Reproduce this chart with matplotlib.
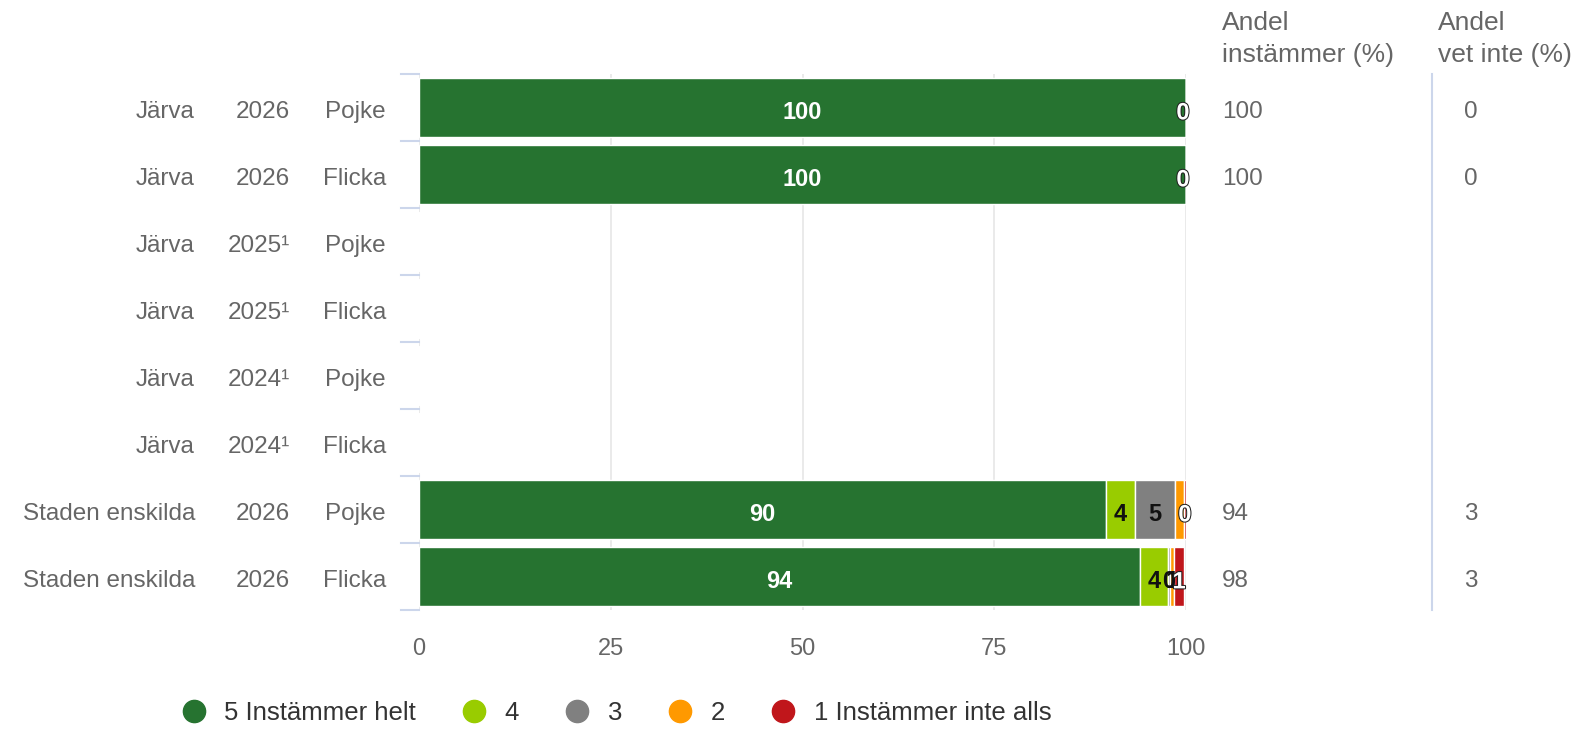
import numpy as np
from matplotlib import pyplot as plt
from matplotlib.lines import Line2D
import matplotlib.patheffects as pe

plt.rcParams['font.family'] = ['Liberation Sans', 'DejaVu Sans']

regions = ['Järva', 'Järva', 'Järva', 'Järva', 'Järva', 'Järva', 'Staden enskilda', 'Staden enskilda']
years = ['2026', '2026', '2025¹', '2025¹', '2024¹', '2024¹', '2026', '2026']
sexes = ['Pojke', 'Flicka', 'Pojke', 'Flicka', 'Pojke', 'Flicka', 'Pojke', 'Flicka']

series_names = ['5 Instämmer helt', '4', '3', '2', '1 Instämmer inte alls']
colors = ['#267330', '#99cc00', '#808080', '#ff9900', '#c0161b']

nan = np.nan
s5 = [100, 100, nan, nan, nan, nan, 89.6, 94.0]
s4 = [0, 0, nan, nan, nan, nan, 3.7, 3.6]
s3 = [0, 0, nan, nan, nan, nan, 5.3, 0.3]
s2 = [0, 0, nan, nan, nan, nan, 1.1, 0.6]
s1 = [0, 0, nan, nan, nan, nan, 0.3, 1.2]
values = [s5, s4, s3, s2, s1]

andel_instammer = ['100', '100', '', '', '', '', '94', '98']
andel_vet_inte = ['0', '0', '', '', '', '', '3', '3']

# labels hidden because they overlap (row, series)
hidden = {(6, 3)}

W, H = 1583, 729
AX_L, AX_R, AX_T, AX_B = 419, 1186, 74, 610
fig = plt.figure(figsize=(W / 100, H / 100), dpi=100)
ax = fig.add_axes([AX_L / W, 1 - AX_B / H, (AX_R - AX_L) / W, (AX_B - AX_T) / H])


def axx(px):
    # pixel x -> axes fraction
    return (px - AX_L) / (AX_R - AX_L)


n = len(regions)
y = np.arange(n)
left = np.zeros(n)
for k in range(5):
    v = np.nan_to_num(np.array(values[k], dtype=float))
    ax.barh(y, v, left=left, height=0.87, color=colors[k], edgecolor='white',
            linewidth=1, zorder=3)
    for i in range(n):
        if np.isnan(values[k][i]) or (i, k) in hidden:
            continue
        val = values[k][i]
        if val == 0 and k != 4:
            continue
        cx = left[i] + val / 2
        if val == 0:
            cx = 99.6
        txt = '%d' % round(val)
        if k in (0, 4) or val == 0:
            c = 'white'
            eff = [pe.withStroke(linewidth=1.5, foreground='#222222')] if val == 0 or k == 4 else []
        else:
            c = '#111111'
            eff = []
        ax.text(cx, i + 0.08, txt, ha='center', va='center', fontsize=17, fontweight='bold',
                color=c, zorder=5, path_effects=eff)
    left += v

ax.set_xlim(0, 100)
ax.set_ylim(n - 0.5, -0.5)
ax.set_xticks([0, 25, 50, 75, 100])
ax.tick_params(axis='x', length=0, labelsize=17, labelcolor='#666666', pad=20)
ax.set_yticks([])
ax.grid(axis='x', color='#e6e6e6', linewidth=1.2, zorder=0)
for s in ax.spines.values():
    s.set_visible(False)

tr = ax.get_yaxis_transform()
for b in np.arange(n + 1) - 0.5:
    ax.plot([axx(401), 0], [b, b], color='#ccd6eb', lw=1.5, transform=tr, clip_on=False)

fs = 17.5
for i in range(n):
    yy = i + 0.07
    ax.text(axx(195), yy, regions[i], ha='right', va='center', fontsize=fs, color='#666666', transform=tr)
    ax.text(axx(290), yy, years[i], ha='right', va='center', fontsize=fs, color='#666666', transform=tr)
    ax.text(axx(386), yy, sexes[i], ha='right', va='center', fontsize=fs, color='#666666', transform=tr)
    ax.text(axx(1222), yy, andel_instammer[i], ha='left', va='center', fontsize=fs, color='#666666', transform=tr)
    ax.text(axx(1471), yy, andel_vet_inte[i], ha='center', va='center', fontsize=fs, color='#666666', transform=tr)

ax.plot([axx(1432), axx(1432)], [-0.5, n - 0.5], color='#ccd6eb', lw=1.5, transform=tr, clip_on=False)

hs = 19
fig.text(1222 / W, 1 - 23 / H, 'Andel', ha='left', va='center', fontsize=hs, color='#666666')
fig.text(1222 / W, 1 - 55 / H, 'instämmer (%)', ha='left', va='center', fontsize=hs, color='#666666')
fig.text(1438 / W, 1 - 23 / H, 'Andel', ha='left', va='center', fontsize=hs, color='#666666')
fig.text(1438 / W, 1 - 55 / H, 'vet inte (%)', ha='left', va='center', fontsize=hs, color='#666666')

handles = [Line2D([], [], marker='o', linestyle='', markersize=16, color=c) for c in colors]
fig.legend(handles, series_names, loc='center', bbox_to_anchor=(616 / W, 1 - 713 / H),
           ncol=5, frameon=False, fontsize=18.5, handlelength=1.0, handletextpad=0.7,
           columnspacing=1.75, labelcolor='#333333')

fig.savefig('out.png', dpi=100)
